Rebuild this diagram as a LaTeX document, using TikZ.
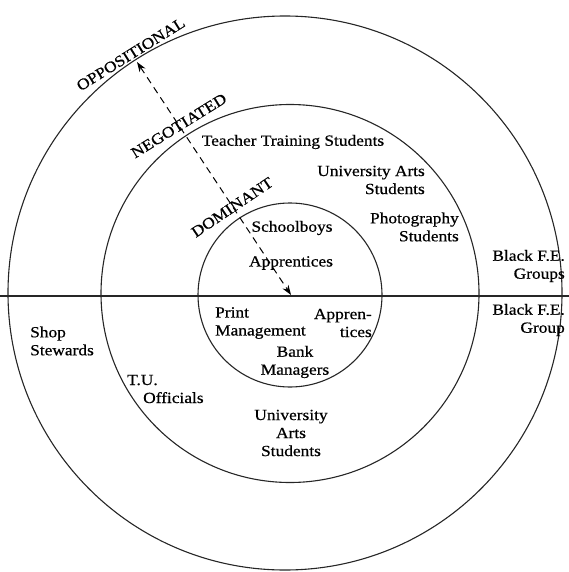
\documentclass[tikz,border=0pt]{standalone}
\usepackage{fontspec}
\setmainfont[FakeStretch=1.12,FakeBold=0.6]{Liberation Serif}
\usetikzlibrary{arrows.meta}
\begin{document}
\begin{tikzpicture}[x=1pt,y=-1pt,
  lbl/.style={font=\fontsize{15.5}{18}\selectfont, inner sep=0pt},
  ring/.style={line width=1.1pt, draw=black!85},
  axis/.style={line width=1.5pt, draw=black!85},
  levellbl/.style={font=\fontsize{15.5}{18}\selectfont, inner sep=0pt, anchor=base},
  readarrow/.style={line width=1pt, dash pattern=on 7pt off 5pt,
    {Stealth[length=10pt,width=7pt]}-{Stealth[length=10pt,width=7pt]}}]
\useasboundingbox (0,0) rectangle (569,572);
% rings
\draw[ring] (285,293) circle[radius=277];
\draw[ring] (290,293.5) circle[radius=189];
\draw[ring] (290,295) circle[radius=92];
% dividing line
\coordinate (lineL) at (0,296);
\coordinate (lineR) at (569,296);
\draw[axis] (lineL) -- (lineR);
% reading arrow
\coordinate (arrTop) at (137,62);
\coordinate (arrBot) at (291,295);
\draw[readarrow] (arrTop) -- (arrBot);
% level labels
\node[levellbl, rotate=32] (opp) at (133.5,58.5) {OPPOSITIONAL};
\node[levellbl, rotate=31.7] (neg) at (181.5,130) {NEGOTIATED};
\node[levellbl, rotate=34] (dom) at (235,211.5) {DOMINANT};
% upper half
\node[lbl] (tts) at (293,142) {Teacher Training Students};
\node[lbl, align=right, anchor=east] (uas) at (425,180) {University Arts\\Students};
\node[lbl, align=right, anchor=east] (phs) at (459,227) {Photography\\Students};
\node[lbl, align=right, anchor=east] (bfe1) at (565,266) {Black F.E.\\Groups};
\node[lbl] (sch) at (292,228) {Schoolboys};
\node[lbl] (app1) at (291,263) {Apprentices};
% lower half
\node[lbl, align=right, anchor=east] (bfe2) at (565,320) {Black F.E.\\Group};
\node[lbl, align=left, anchor=west] (prm) at (215,323) {Print\\Management};
\node[lbl, align=right, anchor=east] (app2) at (372,323) {Appren-\\tices};
\node[lbl, align=center] (bkm) at (295,362) {Bank\\Managers};
\node[lbl, align=left, anchor=west] (shs) at (30,341) {Shop\\Stewards};
\node[lbl, align=left, anchor=west] (tuo) at (127,389) {T.U.\\\hspace*{16pt}Officials};
\node[lbl, align=center] (uas2) at (291,433) {University\\Arts\\Students};
\end{tikzpicture}
\end{document}
